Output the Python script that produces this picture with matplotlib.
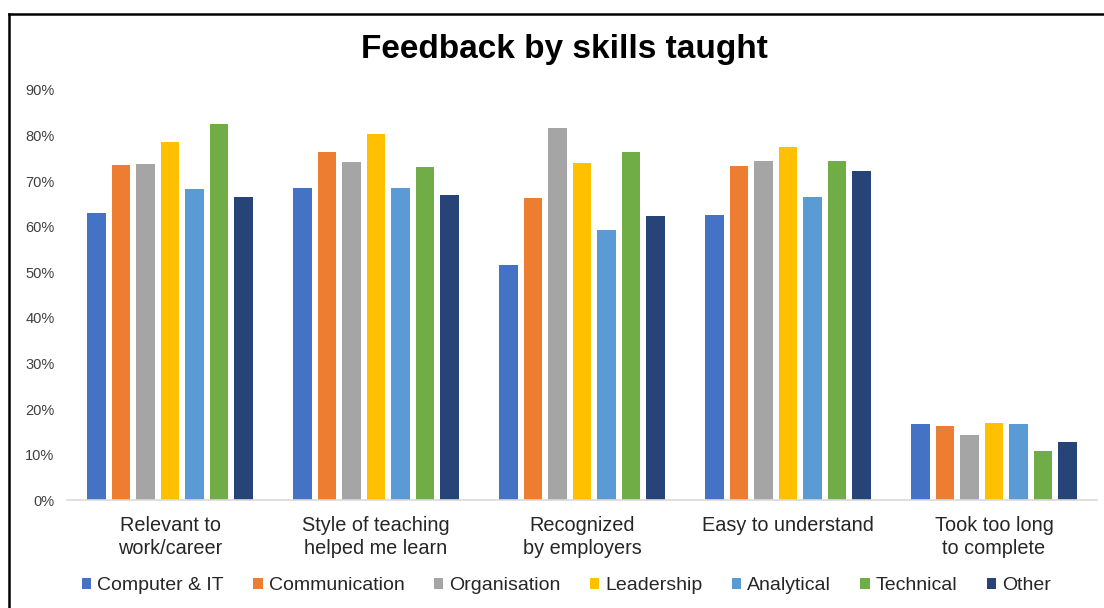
import numpy as np
import matplotlib.pyplot as plt
from matplotlib.lines import Line2D
from matplotlib.ticker import PercentFormatter

plt.rcParams['font.family'] = ['Liberation Sans', 'DejaVu Sans']

categories = ["Relevant to\nwork/career", "Style of teaching\nhelped me learn",
              "Recognized\nby employers", "Easy to understand",
              "Took too long\nto complete"]
skills = ["Computer & IT", "Communication", "Organisation", "Leadership",
          "Analytical", "Technical", "Other"]
computer_it = [63.0, 68.6, 51.6, 62.5, 16.7]
communication = [73.5, 76.3, 66.3, 73.4, 16.4]
organisation = [73.7, 74.3, 81.6, 74.4, 14.4]
leadership = [78.7, 80.4, 73.9, 77.6, 16.9]
analytical = [68.2, 68.4, 59.3, 66.6, 16.7]
technical = [82.6, 73.2, 76.4, 74.4, 10.8]
other = [66.6, 66.9, 62.3, 72.3, 12.7]
series = [computer_it, communication, organisation, leadership,
          analytical, technical, other]
colors = ["#4472C4", "#ED7D31", "#A5A5A5", "#FFC000", "#5B9BD5", "#70AD47", "#264478"]

fig = plt.figure(figsize=(11.04, 6.08), dpi=100)
ax = fig.add_axes([0.0607, 0.177, 0.933, 0.675])

x = np.arange(len(categories))
pitch = 0.119
for i, (vals, name, c) in enumerate(zip(series, skills, colors)):
    ax.bar(x + (i - 3) * pitch, vals, width=0.09, color=c, label=name)

ax.set_xlim(-0.5, len(categories) - 0.5)
ax.set_ylim(0, 90)
ax.set_yticks(range(0, 91, 10))
ax.yaxis.set_major_formatter(PercentFormatter(decimals=0))
ax.set_xticks(x)
ax.set_xticklabels(categories, fontsize=14.3, color="#262626", linespacing=1.3)
ax.tick_params(axis='y', labelsize=10.5, colors="#404040", length=0, pad=9)
ax.tick_params(axis='x', length=0, pad=11)
for s in ["top", "right", "left"]:
    ax.spines[s].set_visible(False)
ax.spines["bottom"].set_color("#d9d9d9")
ax.spines["bottom"].set_linewidth(1.2)

fig.text(0.511, 0.918, "Feedback by skills taught", ha="center", va="center",
         fontsize=24, fontweight="bold", color="black")

fig.legend(loc="center", bbox_to_anchor=(0.513, 0.037), ncol=7, frameon=False,
           fontsize=14, handlelength=0.5, handleheight=0.5, handletextpad=0.3,
           columnspacing=1.5, labelcolor="#262626")

fig.add_artist(Line2D([0.008, 1.0], [1 - 14 / 608, 1 - 14 / 608], color="black",
                      linewidth=1.8, transform=fig.transFigure))
fig.add_artist(Line2D([0.008, 0.008], [0, 1 - 14 / 608], color="black",
                      linewidth=1.8, transform=fig.transFigure))

fig.savefig("out.png", dpi=100)
